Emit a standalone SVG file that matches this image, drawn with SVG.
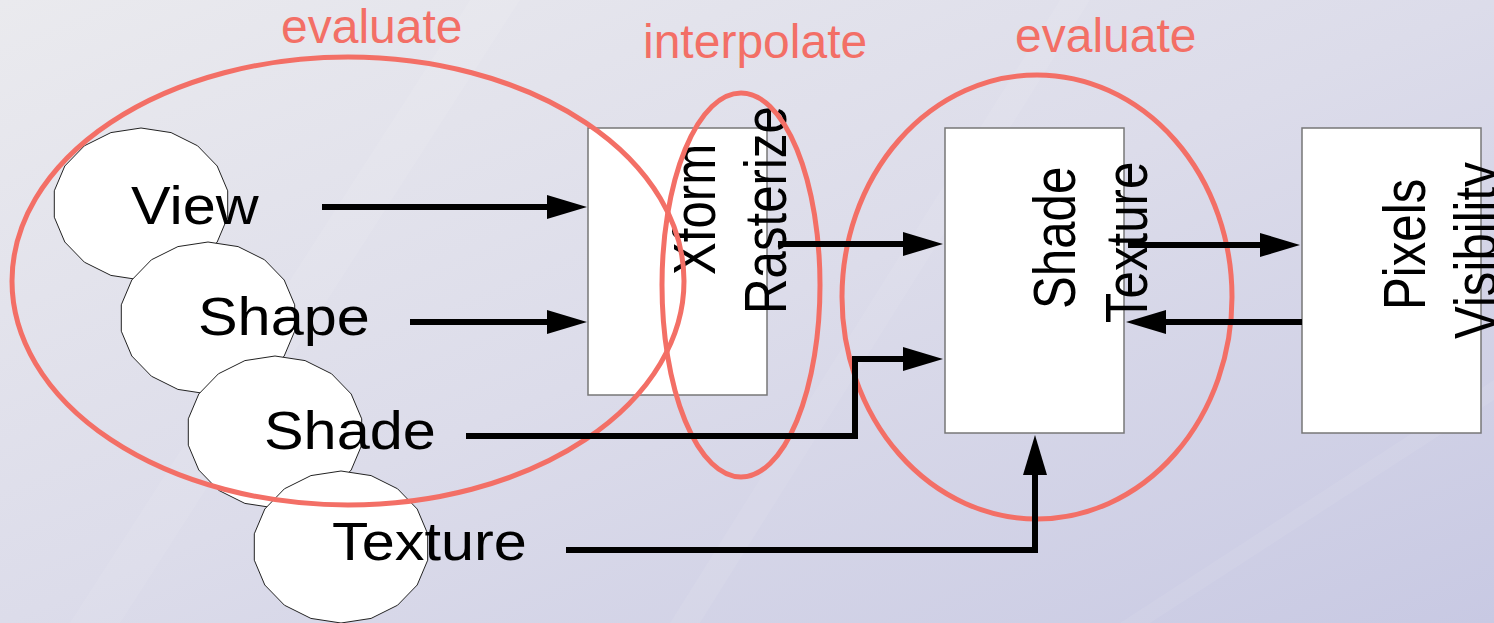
<svg xmlns="http://www.w3.org/2000/svg" xmlns:xlink="http://www.w3.org/1999/xlink" width="1494" height="623" viewBox="0 0 1494 623">
<style>
.blob{fill:#fff;stroke:#222;stroke-width:1}
.box{fill:#fff;stroke:#777;stroke-width:1.5}
.lbl{font-family:"Liberation Sans",Arial,sans-serif;font-size:54px;fill:#000}
.vlbl{font-family:"Liberation Sans",Arial,sans-serif;font-size:60px;fill:#000}
.note{font-family:"Liberation Sans",Arial,sans-serif;font-size:48px;fill:#f36f66}
.ring{fill:none;stroke:#f36f66;stroke-width:5}
.wire{fill:none;stroke:#000;stroke-width:6}
</style>
<defs>
<linearGradient id="bg" x1="0" y1="0" x2="1" y2="1">
<stop offset="0" stop-color="#eaeaee"/>
<stop offset="0.5" stop-color="#dcdcea"/>
<stop offset="1" stop-color="#c8c9e3"/>
</linearGradient>
<polygon id="poly" points="0,-76 30.1,-71.4 56.6,-58.2 76.2,-38 86.7,-13.2 86.7,13.2 76.2,38 56.6,58.2 30.1,71.4 0,76 -30.1,71.4 -56.6,58.2 -76.2,38 -86.7,13.2 -86.7,-13.2 -76.2,-38 -56.6,-58.2 -30.1,-71.4"/>
<marker id="ah" markerUnits="userSpaceOnUse" markerWidth="42" markerHeight="26" refX="2" refY="12" orient="auto">
<path d="M0,0 L40,12 L0,24 z" fill="#000"/>
</marker>
</defs>
<rect width="1494" height="623" fill="url(#bg)"/>
<polygon points="470,0 520,0 120,623 70,623" fill="#fff" opacity="0.08"/>
<polygon points="1060,0 1090,0 700,623 670,623" fill="#fff" opacity="0.07"/>
<polygon points="1494,380 1494,400 1150,623 1120,623" fill="#fff" opacity="0.07"/>

<g id="view"><use xlink:href="#poly" href="#poly" class="blob" transform="translate(141,204)"/><text class="lbl" transform="translate(131,224) scale(1.1,1)">View</text></g>
<g id="shape"><use xlink:href="#poly" href="#poly" class="blob" transform="translate(208,318)"/><text class="lbl" transform="translate(198,335) scale(1.1,1)">Shape</text></g>
<g id="shade-in"><use xlink:href="#poly" href="#poly" class="blob" transform="translate(275,432)"/><text class="lbl" transform="translate(264,449) scale(1.1,1)">Shade</text></g>
<g id="texture-in"><use xlink:href="#poly" href="#poly" class="blob" transform="translate(341,547)"/><text class="lbl" transform="translate(332,560) scale(1.1,1)">Texture</text></g>

<g id="xform-box"><rect class="box" x="588" y="128" width="179" height="267"/>
<text class="vlbl" transform="translate(715,275) rotate(-90) scale(0.82,1)">Xform</text>
<text class="vlbl" transform="translate(786,314) rotate(-90) scale(0.82,1)">Rasterize</text></g>
<g id="shade-box"><rect class="box" x="945" y="128" width="179" height="305"/>
<text class="vlbl" transform="translate(1075,309) rotate(-90) scale(0.82,1)">Shade</text>
<text class="vlbl" transform="translate(1147,323) rotate(-90) scale(0.82,1)">Texture</text></g>
<g id="pixels-box"><rect class="box" x="1302" y="128" width="179" height="305"/>
<text class="vlbl" transform="translate(1425,310) rotate(-90) scale(0.82,1)">Pixels</text>
<text class="vlbl" transform="translate(1496,339) rotate(-90) scale(0.82,1)">Visibility</text></g>

<g id="annotations">
<ellipse class="ring" cx="348" cy="281" rx="336" ry="224"/>
<ellipse class="ring" cx="741" cy="285" rx="79" ry="192"/>
<ellipse class="ring" cx="1037" cy="297" rx="195" ry="222"/>
<text class="note" x="281" y="43">evaluate</text>
<text class="note" x="643" y="58">interpolate</text>
<text class="note" x="1015" y="52">evaluate</text>
</g>

<g id="connectors">
<path class="wire" d="M322,207 H549" marker-end="url(#ah)"/>
<path class="wire" d="M410,322 H549" marker-end="url(#ah)"/>
<path class="wire" d="M778,244 H905" marker-end="url(#ah)"/>
<path class="wire" d="M466,436 H855 V359 H905" marker-end="url(#ah)"/>
<path class="wire" d="M566,550 H1035 V473" marker-end="url(#ah)"/>
<path class="wire" d="M1128,245 H1262" marker-end="url(#ah)"/>
<path class="wire" d="M1302,322 H1164" marker-end="url(#ah)"/>
</g>
</svg>
